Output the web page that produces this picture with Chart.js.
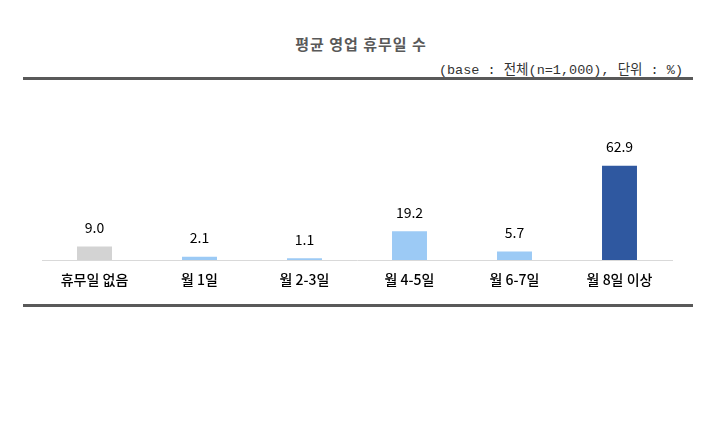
<!DOCTYPE html>
<html>
<head>
<meta charset="utf-8">
<script src="https://cdn.jsdelivr.net/npm/chart.js@4"></script>
<style>
  body { margin: 0; background: #fff; }
  #wrap { position: relative; width: 722px; height: 430px; overflow: hidden; }
  #title { position: absolute; top: 33px; left: 0; width: 722px; text-align: center;
    font-family: "Noto Sans CJK KR"; font-weight: 700; font-size: 15px; letter-spacing: 1px; color: #595959; }
  #sub { position: absolute; top: 58px; right: 39px; font-family: "Liberation Mono", "Noto Sans CJK KR";
    font-size: 13.5px; color: #333; }
  .line { position: absolute; background: #595959; height: 3px; }
  canvas { position: absolute; left: 0; top: 0; }
</style>
</head>
<body>
<div id="wrap">
  <div id="title">평균 영업 휴무일 수</div>
  <div id="sub">(base : 전체(n=1,000), 단위 : %)</div>
  <div class="line" style="top:77px;left:23px;width:670px;"></div>
  <div class="line" style="top:304px;left:23px;width:670px;"></div>
  <canvas id="myChart" width="722" height="430"></canvas>
</div>
<script>
const categories = ['휴무일 없음', '월 1일', '월 2-3일', '월 4-5일', '월 6-7일', '월 8일 이상'];
const values = [9.0, 2.1, 1.1, 19.2, 5.7, 62.9];
const barColors = ['#d3d3d3', '#9ccaf5', '#9ccaf5', '#9ccaf5', '#9ccaf5', '#2f58a0'];

// draws the value above each bar
const valueLabels = {
    id: 'valueLabels',
    afterDatasetsDraw(chart) {
        const ctx = chart.ctx;
        const meta = chart.getDatasetMeta(0);
        ctx.save();
        ctx.font = '14px "Noto Sans CJK KR"';
        ctx.fillStyle = '#000';
        ctx.textAlign = 'center';
        ctx.textBaseline = 'middle';
        meta.data.forEach((bar, i) => {
            ctx.fillText(values[i].toFixed(1), bar.x, bar.y - 19);
        });
        ctx.restore();
    }
};

const ctx = document.getElementById('myChart').getContext('2d');
const myChart = new Chart(ctx, {
    type: 'bar',
    data: {
        labels: categories,
        datasets: [{
            data: values,
            backgroundColor: barColors,
            borderWidth: 0,
            categoryPercentage: 1,
            barPercentage: 0.333
        }]
    },
    options: {
        responsive: false,
        animation: false,
        layout: { padding: { left: 42, right: 50, top: 155, bottom: 130 } },
        plugins: {
            legend: { display: false },
            tooltip: { enabled: false }
        },
        scales: {
            y: {
                display: false,
                min: 0,
                max: 70
            },
            x: {
                grid: { display: false },
                border: { color: '#d9d9d9', width: 1 },
                ticks: {
                    color: '#000',
                    padding: 3,
                    font: { family: '"Noto Sans CJK KR"', size: 14, weight: 500 }
                },
                afterFit: function(scale) { scale.height = 40; }
            }
        }
    },
    plugins: [valueLabels]
});
</script>
</body>
</html>
